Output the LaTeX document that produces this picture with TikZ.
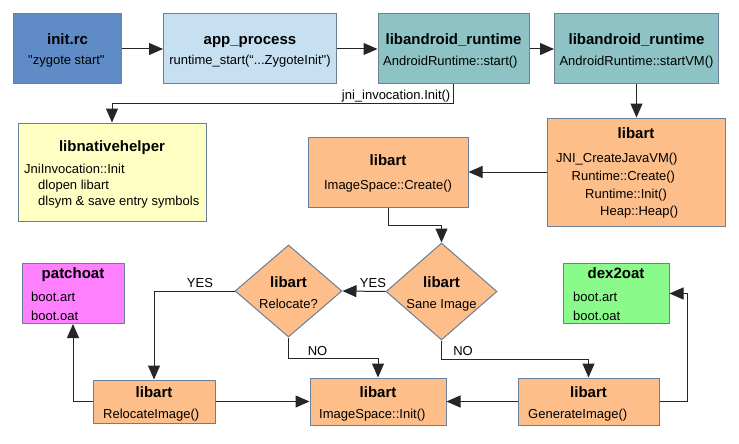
\documentclass[tikz,border=0pt]{standalone}
\usepackage{fontspec}
\usepackage{tikz}
\usetikzlibrary{arrows.meta,shapes.geometric,positioning}

\newfontfamily\lsans{Liberation Sans}

\definecolor{bordc}{RGB}{106,127,153}
\definecolor{cInit}{RGB}{95,139,199}
\definecolor{cApp}{RGB}{198,224,242}
\definecolor{cRt}{RGB}{141,195,196}
\definecolor{cNh}{RGB}{255,255,196}
\definecolor{cArt}{RGB}{253,190,137}
\definecolor{cPatch}{RGB}{255,128,255}
\definecolor{cDex}{RGB}{138,250,138}

\tikzset{
  box/.style={draw=bordc, line width=1pt, inner sep=0pt},
  choice/.style={diamond, draw=bordc, fill=cArt, line width=1pt, inner sep=0pt},
  ttl/.style={font=\lsans\bfseries\fontsize{15}{18}\selectfont, anchor=base, inner sep=0pt},
  txt/.style={font=\lsans\fontsize{13}{15}\selectfont, anchor=base west, inner sep=0pt},
  txtc/.style={txt, anchor=base},
  lbl/.style={font=\lsans\fontsize{13}{15}\selectfont, anchor=base, inner sep=0pt},
  arr/.style={-{Triangle[length=14pt,width=12pt]}, line width=1pt, draw=black!85}
}

\begin{document}
\begin{tikzpicture}[x=1pt,y=-1pt]
  \useasboundingbox (0,0) rectangle (739,444);
  % top row
  \node[box,fill=cInit,minimum width=108pt,minimum height=70pt] (initrc) at (67.5,49) {};
  \node[ttl] (initrcT) at (67.5,45) {init.rc};
  \node[txt] (initrcB) at (28,65) {"zygote start"};
  \node[box,fill=cApp,minimum width=173pt,minimum height=70pt] (app) at (250,49) {};
  \node[ttl] (appT) at (250,45) {app\_process};
  \node[txtc] (appB) at (250,65) {runtime\_start(“...ZygoteInit")};
  \node[box,fill=cRt,minimum width=151pt,minimum height=70pt] (rt1) at (453.5,49) {};
  \node[ttl] (rt1T) at (453.5,45) {libandroid\_runtime};
  \node[txt] (rt1B) at (383,66) {AndroidRuntime::start()};
  \node[box,fill=cRt,minimum width=164pt,minimum height=70pt] (rt2) at (636.5,49) {};
  \node[ttl] (rt2T) at (636.5,45) {libandroid\_runtime};
  \node[txtc] (rt2B) at (636.5,66) {AndroidRuntime::startVM()};
  % middle row
  \node[box,fill=cNh,minimum width=188pt,minimum height=98pt] (nh) at (112,172) {};
  \node[ttl] (nhT) at (112,151) {libnativehelper};
  \node[txt] (nhB1) at (24,173) {JniInvocation::Init};
  \node[txt] (nhB2) at (38,189) {dlopen libart};
  \node[txt] (nhB3) at (38,205) {dlsym \& save entry symbols};
  \node[box,fill=cArt,minimum width=178pt,minimum height=108pt] (libart) at (636,172) {};
  \node[ttl] (libartT) at (636,138) {libart};
  \node[txt] (libartB1) at (556,162.5) {JNI\_CreateJavaVM()};
  \node[txt] (libartB2) at (571.5,180.5) {Runtime::Create()};
  \node[txt] (libartB3) at (585,198) {Runtime::Init()};
  \node[txt] (libartB4) at (600,215.5) {Heap::Heap()};
  \node[box,fill=cArt,minimum width=160pt,minimum height=70pt] (create) at (388,172) {};
  \node[ttl] (createT) at (388,165.5) {libart};
  \node[txtc] (createB) at (388,189) {ImageSpace::Create()};
  % decisions
  \node[choice,minimum width=111pt,minimum height=97pt] (sane) at (441.5,291.5) {};
  \node[ttl] (saneT) at (441.5,287) {libart};
  \node[txtc] (saneB) at (441.5,308) {Sane Image};
  \node[choice,minimum width=107pt,minimum height=92pt] (reloc) at (288.5,291) {};
  \node[ttl] (relocT) at (288.5,287) {libart};
  \node[txtc] (relocB) at (288.5,308) {Relocate?};
  \node[box,fill=cPatch,minimum width=102pt,minimum height=60pt] (patchoat) at (73,293.5) {};
  \node[ttl] (patchoatT) at (73,278) {patchoat};
  \node[txt] (patchoatB1) at (31,301.5) {boot.art};
  \node[txt] (patchoatB2) at (31,320) {boot.oat};
  \node[box,fill=cDex,minimum width=106pt,minimum height=60pt] (dex) at (616,293.5) {};
  \node[ttl] (dexT) at (616,278) {dex2oat};
  \node[txt] (dexB1) at (573,301.5) {boot.art};
  \node[txt] (dexB2) at (573,320) {boot.oat};
  % bottom row
  \node[box,fill=cArt,minimum width=122pt,minimum height=43pt] (relocimg) at (154,401.5) {};
  \node[ttl] (relocimgT) at (154,397) {libart};
  \node[txt] (relocimgB) at (103,418) {RelocateImage()};
  \node[box,fill=cArt,minimum width=136pt,minimum height=47pt] (init) at (378,401.5) {};
  \node[ttl] (initT) at (378,397) {libart};
  \node[txt] (initB) at (319,418) {ImageSpace::Init()};
  \node[box,fill=cArt,minimum width=141pt,minimum height=47pt] (gen) at (588.5,401.5) {};
  \node[ttl] (genT) at (588.5,397) {libart};
  \node[txt] (genB) at (528,418) {GenerateImage()};
  % connectors
  \draw[arr] (initrc.east) -- (app.west);
  \draw[arr] (app.east) -- (rt1.west);
  \draw[arr] (rt1.east) -- (rt2.west);
  \draw[arr] (rt1.south) -- ++(0,19) coordinate (jni) -| (nh.north);
  \node[lbl,anchor=base east] (jniL) at ([xshift=-3pt,yshift=4pt]jni) {jni\_invocation.Init()};
  \draw[arr] (rt2.south) -- (rt2.south |- libart.north);
  \draw[arr] (libart.west) -- (create.east);
  \draw[arr] (create.south) -- ++(0,18) -| (sane.north);
  \draw[arr] (sane.west) -- (reloc.east);
  \node[lbl] (yes1) at (373,287) {YES};
  \draw[arr] (reloc.west) -| (relocimg.north);
  \node[lbl] (yes2) at (200,287) {YES};
  \draw[arr] (reloc.south) -- ++(0,21) -| (init.north);
  \node[lbl] (no1) at (317.5,355) {NO};
  \draw[arr] (sane.south) -- ++(0,19) -| (gen.north);
  \node[lbl] (no2) at (463,355) {NO};
  \draw[arr] (relocimg.west) -| (patchoat.south);
  \draw[arr] (relocimg.east) -- (init.west);
  \draw[arr] (gen.west) -- (init.east);
  \draw[arr] (gen.east) -- ++(28,0) |- (dex.east);
\end{tikzpicture}
\end{document}
